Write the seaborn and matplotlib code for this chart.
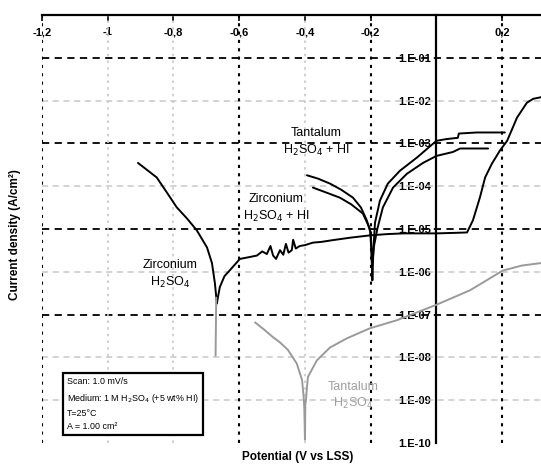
import matplotlib
matplotlib.use("Agg")
import matplotlib.pyplot as plt
import matplotlib.ticker as mticker
import seaborn as sns
import pandas as pd

# ── Dados ─────────────────────────────────────────────────────────────────────
zr_h2so4_e = [-0.908, -0.851, -0.820, -0.790, -0.760, -0.729, -0.698, -0.683, -0.674, -0.668,
              -0.665, -0.659, -0.645, -0.628, -0.598, -0.570, -0.546, -0.530, -0.516, -0.505,
              -0.497, -0.488, -0.476, -0.466, -0.458, -0.450, -0.440, -0.436, -0.428, -0.416,
              -0.400, -0.376, -0.350, -0.315, -0.260, -0.202, -0.150, -0.100, -0.050, 0.000,
              0.050, 0.093, 0.111, 0.132, 0.148, 0.169, 0.193, 0.215, 0.245, 0.275, 0.294, 0.318]
zr_h2so4_i = [3.5e-4, 1.6e-4, 7.1e-5, 3.2e-5, 1.8e-5, 9.3e-6, 3.7e-6, 1.6e-6, 5.4e-7, 1.8e-7,
              2.5e-7, 4.4e-7, 7.9e-7, 1.1e-6, 2.0e-6, 2.2e-6, 2.4e-6, 3.0e-6, 2.6e-6, 4.0e-6,
              2.4e-6, 2.0e-6, 3.2e-6, 2.5e-6, 4.5e-6, 2.8e-6, 3.2e-6, 5.6e-6, 3.5e-6, 4.0e-6,
              4.2e-6, 4.8e-6, 5.0e-6, 5.5e-6, 6.3e-6, 7.1e-6, 7.6e-6, 7.9e-6, 7.9e-6, 7.9e-6,
              8.1e-6, 8.3e-6, 1.6e-5, 5.4e-5, 1.6e-4, 3.4e-4, 6.8e-4, 1.15e-3, 4.0e-3, 8.9e-3,
              1.1e-2, 1.2e-2]
# pico do potencial de corrosão (parte cinza)
zr_spike_e = [-0.670, -0.671, -0.672]
zr_spike_i = [2.5e-7, 5.0e-8, 1.1e-8]

ta_hi_e = [-0.394, -0.360, -0.324, -0.290, -0.254, -0.230, -0.212, -0.200, -0.197, -0.195,
           -0.192, -0.187, -0.172, -0.148, -0.111, -0.059, 0.000, 0.030, 0.065, 0.068, 0.123, 0.208]
ta_hi_i = [1.8e-4, 1.5e-4, 1.15e-4, 8.3e-5, 5.4e-5, 3.2e-5, 1.6e-5, 7.9e-6, 2.5e-6, 6.3e-7,
           3.2e-6, 1.4e-5, 4.6e-5, 1.15e-4, 2.3e-4, 4.7e-4, 1.15e-3, 1.26e-3, 1.35e-3, 1.7e-3,
           1.8e-3, 1.8e-3]

zr_hi_e = [-0.376, -0.335, -0.294, -0.260, -0.224, -0.202, -0.198, -0.196, -0.190, -0.180,
           -0.163, -0.132, -0.090, -0.041, 0.000, 0.050, 0.072, 0.157]
zr_hi_i = [9.3e-5, 7.1e-5, 5.4e-5, 3.8e-5, 2.3e-5, 1.0e-5, 3.2e-6, 1.26e-6, 4.0e-6, 1.0e-5,
           3.2e-5, 9.3e-5, 1.95e-4, 3.5e-4, 5.1e-4, 6.3e-4, 7.6e-4, 7.6e-4]

ta_h2so4_e = [-0.552, -0.525, -0.498, -0.475, -0.452, -0.425, -0.409, -0.404, -0.402, -0.400,
              -0.399, -0.397, -0.394, -0.391, -0.364, -0.324, -0.272, -0.202, -0.120, 0.000,
              0.102, 0.202, 0.260, 0.318]
ta_h2so4_i = [6.6e-8, 4.5e-8, 3.0e-8, 2.2e-8, 1.5e-8, 7.2e-9, 3.0e-9, 1.2e-9, 6.3e-10, 1.2e-10,
              8.0e-10, 1.0e-9, 2.0e-9, 3.5e-9, 8.5e-9, 1.7e-8, 2.8e-8, 4.8e-8, 7.4e-8, 1.7e-7,
              3.7e-7, 1.07e-6, 1.4e-6, 1.6e-6]

x_ticks = [-1.2, -1.0, -0.8, -0.6, -0.4, -0.2, 0.0, 0.2]
x_labels = ["-1,2", "-1", "-0,8", "-0,6", "-0,4", "-0,2", "", "0,2"]
y_ticks = [1e-10, 1e-9, 1e-8, 1e-7, 1e-6, 1e-5, 1e-4, 1e-3, 1e-2, 1e-1]
y_labels = ["1.E-10", "1.E-09", "1.E-08", "1.E-07", "1.E-06",
            "1.E-05", "1.E-04", "1.E-03", "1.E-02", "1.E-01"]

sns.set_theme(style="white")
plt.rcParams["font.family"] = ["Liberation Sans", "DejaVu Sans"]

fig = plt.figure(figsize=(5.41, 4.70), dpi=100)
ax = fig.add_axes([42 / 541, 27 / 470, 499 / 541, 428 / 470])
ax.set_yscale("log")
ax.set_xlim(-1.2, 0.318)
ax.set_ylim(1e-10, 1)

# grade: linhas escuras e claras alternadas
for v in [1e-1, 1e-3, 1e-5, 1e-7]:
    ax.axhline(v, color="black", lw=1.3, ls=(0, (4, 3)), zorder=1)
for v in [1e-2, 1e-4, 1e-6, 1e-8, 1e-9]:
    ax.axhline(v, color="#c8c8c8", lw=1.1, ls=(0, (4, 3)), zorder=1)
for v in [-1.2, -0.6, -0.2, 0.2]:
    ax.axvline(v, color="black", lw=1.5, ls=(0, (1.5, 2.5)), zorder=1)
for v in [-1.0, -0.8, -0.4]:
    ax.axvline(v, color="#c8c8c8", lw=1.2, ls=(0, (1.5, 2.5)), zorder=1)

# curvas de polarização
curves = [
    (zr_h2so4_e, zr_h2so4_i, "black"),
    (zr_spike_e, zr_spike_i, "#9a9a9a"),
    (ta_hi_e, ta_hi_i, "black"),
    (zr_hi_e, zr_hi_i, "black"),
    (ta_h2so4_e, ta_h2so4_i, "#9a9a9a"),
]
for e, i, color in curves:
    df = pd.DataFrame({"E": e, "i": i})
    sns.lineplot(data=df, x="E", y="i", sort=False, estimator=None,
                 color=color, lw=1.4, ax=ax, zorder=3)

# eixos
ax.spines["left"].set_position(("data", 0))
ax.spines["left"].set_linewidth(1.6)
ax.spines["left"].set_color("black")
ax.spines["top"].set_linewidth(1.6)
ax.spines["top"].set_color("black")
ax.spines["right"].set_visible(False)
ax.spines["bottom"].set_visible(False)

ax.xaxis.set_ticks_position("top")
ax.set_xticks(x_ticks)
ax.set_xticklabels(x_labels)
ax.tick_params(axis="x", direction="in", length=4, width=1.2, pad=-16,
               labelsize=8, colors="black")
ax.yaxis.set_major_locator(mticker.FixedLocator(y_ticks))
ax.set_yticklabels(y_labels)
ax.yaxis.set_minor_locator(mticker.LogLocator(base=10, subs=(0.2, 0.4, 0.6, 0.8)))
ax.yaxis.set_minor_formatter(mticker.NullFormatter())
ax.tick_params(axis="y", which="major", direction="out", length=3, width=1.2,
               pad=1, labelsize=8, colors="black")
ax.tick_params(axis="y", which="minor", direction="out", length=2, width=0.8)

ax.set_xlabel("")
ax.set_ylabel("")
fig.text(0.55, 0.015, "Potential (V vs LSS)", ha="center", va="bottom",
         fontsize=8.5, fontweight="bold", color="black")
fig.text(0.028, 0.50, "Current density (A/cm²)", ha="center", va="center",
         rotation=90, fontsize=8.5, fontweight="bold", color="black")

# anotações das curvas
ax.text(-0.365, 1.05e-3, "Tantalum\nH$_2$SO$_4$ + HI", ha="center", va="center",
        fontsize=9, linespacing=1.3, color="black")
ax.text(-0.488, 3.0e-5, "Zirconium\nH$_2$SO$_4$ + HI", ha="center", va="center",
        fontsize=9, linespacing=1.3, color="black")
ax.text(-0.811, 8.7e-7, "Zirconium\nH$_2$SO$_4$", ha="center", va="center",
        fontsize=9, linespacing=1.3, color="black")
ax.text(-0.254, 1.25e-9, "Tantalum\nH$_2$SO$_4$", ha="center", va="center",
        fontsize=9, linespacing=1.3, color="#a0a0a0")

# caixa de condições
ax.text(0.05, 0.028, "Scan: 1.0 mV/s\nMedium: 1 M H$_2$SO$_4$ (+5 wt% HI)\nT=25°C\nA = 1.00 cm²",
        transform=ax.transAxes, ha="left", va="bottom", fontsize=6.4, linespacing=1.6,
        color="black",
        bbox=dict(boxstyle="square,pad=0.45", fc="white", ec="black", lw=1.6), zorder=5)

# rótulos dos ticks com fundo branco (cobrem a grade) — depois do draw
fig.canvas.draw()
for lab in ax.xaxis.get_majorticklabels() + ax.yaxis.get_majorticklabels():
    lab.set_fontweight("bold")
    lab.set_bbox(dict(fc="white", ec="none", pad=0.6))

fig.savefig("out.png", dpi=100)
